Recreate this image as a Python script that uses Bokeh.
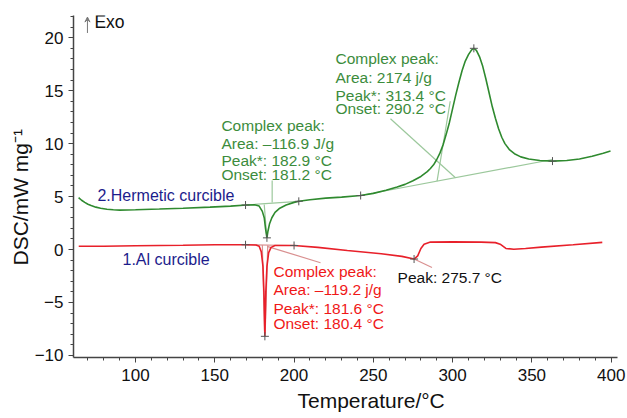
from bokeh.plotting import figure
from bokeh.models import FixedTicker, Title, Arrow, VeeHead
from bokeh.core.properties import value
from bokeh.embed import file_html
from bokeh.resources import INLINE

FONT = "Liberation Sans"

# ---- data: 2. Hermetic crucible (green) ----
green_T = [64.1, 66, 68, 70, 72, 75, 78, 82, 86, 90, 100, 115, 130, 147, 160, 170, 175, 178,
           180, 181.2, 182, 182.9, 183.5, 184.5, 186, 188, 191, 195, 200, 203, 210, 220, 230,
           242, 250, 258, 265, 270, 275, 280, 284, 286, 288, 290, 292, 294, 296, 298, 300,
           302, 304, 306, 308, 310, 312, 313.4, 315, 317, 319, 321, 323, 325, 327, 329, 331,
           333, 336, 339, 343, 348, 355, 363, 372, 380, 388, 395, 399.6]
green_dsc = [4.9, 4.65, 4.45, 4.28, 4.15, 4.0, 3.9, 3.8, 3.75, 3.72, 3.75, 3.82, 3.9, 4.0, 4.1,
             4.2, 4.22, 4.1, 3.6, 3.0, 2.0, 1.1, 1.7, 2.4, 3.0, 3.5, 3.9, 4.2, 4.45, 4.55, 4.7,
             4.85, 4.95, 5.1, 5.3, 5.6, 5.9, 6.15, 6.5, 6.9, 7.35, 7.65, 8.0, 8.5, 9.1, 9.9,
             10.9, 12.0, 13.3, 14.6, 15.8, 16.9, 17.8, 18.4, 18.85, 19.0, 18.8, 18.2, 17.3,
             16.1, 14.8, 13.5, 12.4, 11.4, 10.6, 10.0, 9.4, 9.05, 8.75, 8.55, 8.4, 8.35, 8.4,
             8.55, 8.8, 9.1, 9.3]

# ---- data: 1. Al crucible (red) ----
red_T = [64.2, 80, 100, 130, 150, 170, 176, 178, 179.3, 180.4, 181, 181.6, 182.2, 182.9, 184,
         185.5, 188, 200, 215, 233.6, 255, 268, 275.7, 278, 280, 282, 286, 300, 318, 327, 330,
         333.6, 338.6, 346, 356, 376, 394.4]
red_dsc = [0.3, 0.3, 0.35, 0.4, 0.45, 0.45, 0.42, 0.3, -0.2, -1.6, -4.0, -8.2, -4.0, -1.6, -0.3,
           0.2, 0.38, 0.38, 0.2, -0.1, -0.4, -0.65, -0.9, -0.6, 0.1, 0.5, 0.7, 0.72, 0.7, 0.65,
           0.5, 0.1, 0.03, 0.1, 0.22, 0.45, 0.67]

# ---- evaluation marks ----
green_marks_T = [169.4, 182.9, 203.0, 242.0, 313.4, 363.0]
green_marks_dsc = [4.2, 1.1, 4.55, 5.1, 19.0, 8.35]
red_marks_T = [169.4, 181.6, 200.0, 275.7]
red_marks_dsc = [0.45, -8.2, 0.38, -0.9]

# baselines / tangents / leaders (light lines)
green_aux_T = [[169.4, 203.0], [186.2, 186.2], [181.2, 182.6], [242.0, 363.0], [290.2, 298.5], [260.8, 301.8]]
green_aux_dsc = [[4.2, 4.55], [6.52, 4.45], [4.25, 1.5], [5.1, 8.5], [6.45, 14.0], [12.35, 6.78]]
red_aux_T = [[169.4, 200.0], [180.0, 181.4], [183.4, 181.8], [183.0, 216.7], [275.7, 287.0]]
red_aux_dsc = [[0.45, 0.38], [0.42, -7.9], [0.4, -7.9], [0.3, -1.25], [-0.9, -1.7]]

# ---- annotation texts ----
green1_text = ["Complex peak:", "Area: \u2013116.9 J/g", "Peak*: 182.9 \u00b0C", "Onset: 181.2 \u00b0C"]
green1_x = [154.2] * 4
green1_y = [11.71, 10.01, 8.41, 7.09]
green2_text = ["Complex peak:", "Area: 2174 j/g", "Peak*: 313.4 \u00b0C", "Onset: 290.2 \u00b0C"]
green2_x = [226.1] * 4
green2_y = [18.04, 16.25, 14.55, 13.32]
red_text = ["Complex peak:", "Area: \u2013119.2 j/g", "Peak*: 181.6 \u00b0C", "Onset: 180.4 \u00b0C"]
red_x = [187.0] * 4
red_y = [-2.07, -3.77, -5.57, -6.98]

x_ticks = [100, 150, 200, 250, 300, 350, 400]
x_minor = list(range(70, 401, 10))
y_ticks = [-10, -5, 0, 5, 10, 15, 20]
y_minor = list(range(-10, 23))

GREEN = "#2f8a2f"
GREEN_LIGHT = "#9cc89c"
RED = "#e8202a"
RED_LIGHT = "#d99090"
GREEN_TXT = "#3c8c3c"
RED_TXT = "#f01818"
NAVY = "#1c1c8c"

p = figure(width=627, height=418, output_backend="svg", toolbar_location=None,
           x_range=(60.9, 404.0), y_range=(-10.2, 22.1),
           min_border_left=73, min_border_right=10, min_border_top=15, min_border_bottom=61)
p.outline_line_color = None
p.xgrid.visible = False
p.ygrid.visible = False
p.background_fill_color = "white"

for ax in (p.xaxis[0], p.yaxis[0]):
    ax.axis_line_color = "#444444"
    ax.axis_line_width = 1.5
    ax.major_tick_line_color = "#444444"
    ax.minor_tick_line_color = "#444444"
    ax.major_tick_out = 5
    ax.major_tick_in = 0
    ax.minor_tick_out = 3
    ax.minor_tick_in = 0
    ax.major_label_text_font = FONT
    ax.major_label_text_font_size = "17px"
    ax.major_label_text_color = "#111111"

p.xaxis.ticker = FixedTicker(ticks=x_ticks, minor_ticks=x_minor)
p.yaxis.ticker = FixedTicker(ticks=y_ticks, minor_ticks=y_minor)
p.yaxis.major_label_overrides = {t: (f"\u2212{abs(t)}" if t < 0 else str(t)) for t in y_ticks}
p.xaxis.major_label_standoff = 6
p.yaxis.major_label_standoff = 5

# axis titles (placed as in the reference)
p.add_layout(Title(text="DSC/mW mg\u207b\u00b9", align="left", offset=92, standoff=0,
                   text_font=FONT, text_font_size="21px", text_font_style="normal",
                   text_color="#111111"), "left")
p.add_layout(Title(text="Temperature/\u00b0C", align="left", offset=224, standoff=6,
                   text_font=FONT, text_font_size="21px", text_font_style="normal",
                   text_color="#111111"), "below")

# light auxiliary lines
p.multi_line(xs=green_aux_T, ys=green_aux_dsc, line_color=GREEN_LIGHT, line_width=1.2)
p.multi_line(xs=red_aux_T, ys=red_aux_dsc, line_color=RED_LIGHT, line_width=1.2)

# curves
p.line(green_T, green_dsc, line_color=GREEN, line_width=1.6)
p.line(red_T, red_dsc, line_color=RED, line_width=1.6)

# marks
p.scatter(green_marks_T, green_marks_dsc, marker="cross", size=8, line_color="#555555", line_width=1)
p.scatter(red_marks_T, red_marks_dsc, marker="cross", size=8, line_color="#555555", line_width=1)

# annotation texts
def block(xs, ys, texts, color, size="15.5px"):
    p.text(x=xs, y=ys, text=texts, text_color=color, text_font=value(FONT),
           text_font_size=size, text_align="left", text_baseline="middle")

block(green1_x, green1_y, green1_text, GREEN_TXT)
block(green2_x, green2_y, green2_text, GREEN_TXT)
block(red_x, red_y, red_text, RED_TXT)
block([265.3], [-2.64], ["Peak: 275.7 \u00b0C"], "#111111")
block([76.0], [5.10], ["2.Hermetic curcible"], NAVY, "16px")
block([91.8], [-0.94], ["1.Al curcible"], NAVY, "16px")
block([74.1], [21.44], ["Exo"], "#111111", "17.5px")

# Exo arrow
p.add_layout(Arrow(x_start=69.7, y_start=20.45, x_end=69.7, y_end=21.95,
                   line_color="#777777", line_width=1,
                   end=VeeHead(size=5, line_color="#777777", line_width=1, fill_color="#777777")))

open("out.html", "w").write(file_html(p, INLINE))
